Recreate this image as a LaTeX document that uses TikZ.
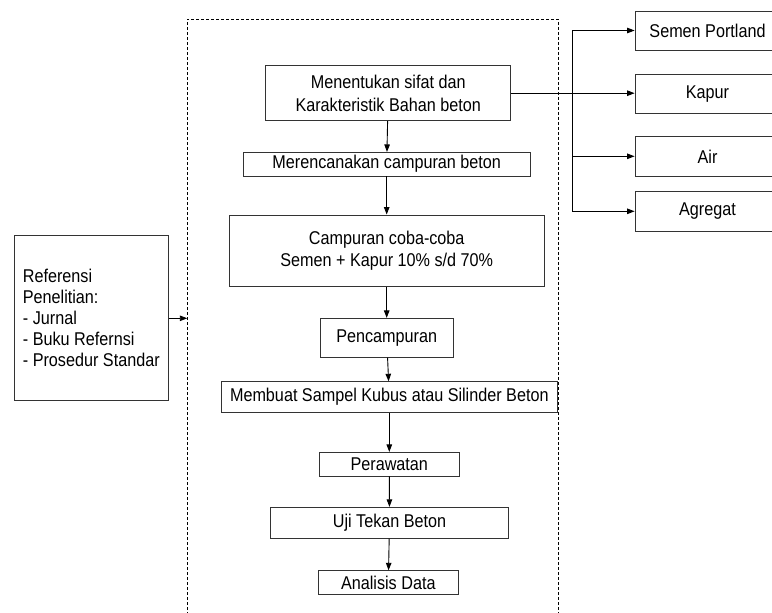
\documentclass[tikz,border=0pt]{standalone}
\usepackage{fontspec}
\setmainfont[FakeStretch=0.875]{Liberation Sans}
\usetikzlibrary{arrows.meta}
\begin{document}
\begin{tikzpicture}[x=1pt,y=-1pt,
  every node/.style={font=\fontsize{18.5}{21.5}\selectfont},
  bx/.style={draw=black!80,line width=0.8pt,rectangle,inner sep=0pt,align=center},
  arr/.style={-{Triangle[length=7.5pt,width=5.5pt]},line width=0.9pt},
  ln/.style={line width=0.9pt}]
\useasboundingbox (0,0) rectangle (772,613);
\draw[line width=0.8pt,dash pattern=on 3pt off 2pt] (187.3,640) -- (187.3,19) -- (558.3,19) -- (558.3,640);
\node[bx,minimum width=245pt,minimum height=55pt] (b1) at (388.2,93.2) {Menentukan sifat dan\\[1.5pt] Karakteristik Bahan beton};
\node[bx,minimum width=286.7pt,minimum height=23.7pt] (b2) at (386.7,164.2) {Merencanakan campuran beton};
\node[bx,minimum width=314.7pt,minimum height=71.7pt] (b3) at (386.7,250.8) {Campuran coba-coba\\ Semen + Kapur 10\% s/d 70\%};
\node[bx,minimum width=133.3pt,minimum height=39pt] (b4) at (386.7,337.8) {Pencampuran};
\node[bx,minimum width=336.7pt,minimum height=31pt] (b5) at (389.3,397.2) {Membuat Sampel Kubus atau Silinder Beton};
\node[bx,minimum width=140pt,minimum height=23.7pt] (b6) at (389.3,464.2) {Perawatan};
\node[bx,minimum width=237.6pt,minimum height=31pt] (b7) at (389.5,522.8) {Uji Tekan Beton};
\node[bx,minimum width=140pt,minimum height=23.6pt] (b8) at (388.3,582.5) {Analisis Data};
\node[bx,minimum width=154pt,minimum height=164.3pt,align=left,font=\fontsize{18.5}{20.8}\selectfont] (ref) at (91.3,317.8) {Referensi\\ Penelitian:\\ - Jurnal\\ - Buku Refernsi\\ - Prosedur Standar};
\node[bx,minimum width=145pt,minimum height=39pt] (sp) at (707.5,30.5) {Semen Portland};
\node[bx,minimum width=145pt,minimum height=39.3pt] (kp) at (707.5,93.7) {Kapur};
\node[bx,minimum width=145pt,minimum height=39.3pt] (air) at (707.5,156.3) {Air};
\node[bx,minimum width=145pt,minimum height=39.3pt] (ag) at (707.5,211.3) {Agregat};
\coordinate (s1) at (572.3,30.5);
\coordinate (s4) at (572.3,211.3);
\coordinate (dl) at (187.3,318.3);
\draw[arr] (b1) -- (b2);
\draw[arr] (b2) -- (b3);
\draw[arr] (b3) -- (b4);
\draw[arr] (b4) -- (b5);
\draw[arr] (b5) -- (b6);
\draw[arr] (b6) -- (b7);
\draw[arr] (b7) -- (b8);
\draw[arr] (b1.east) -- (b1.east -| kp.west);
\draw[ln] (s1) -- (s4);
\draw[arr] (s1) -- (sp.west);
\draw[arr] (air.west -| s1) -- (air.west);
\draw[arr] (s4) -- (ag.west);
\draw[arr] (ref.east |- dl) -- (dl);
\end{tikzpicture}
\end{document}
